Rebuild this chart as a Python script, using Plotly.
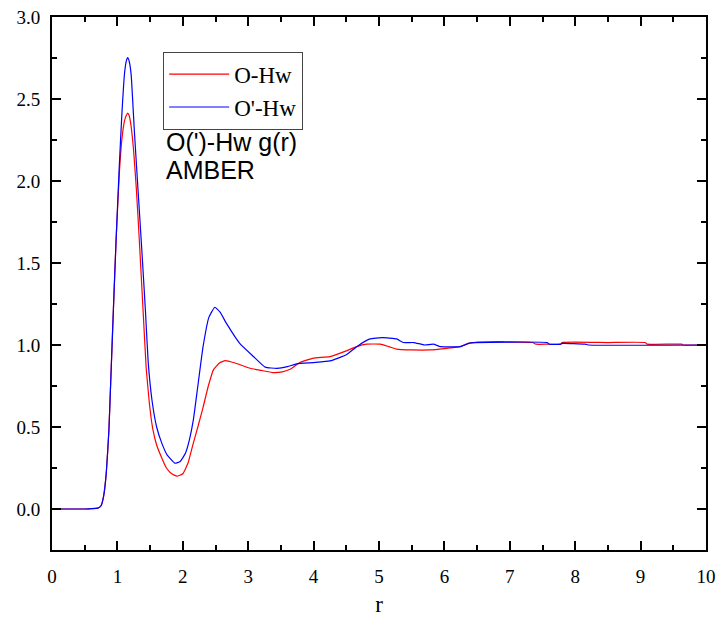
import plotly.graph_objects as go

# O-Hw g(r)
r_red = [0.0, 0.5, 0.6, 0.70, 0.75, 0.79, 0.83, 0.87, 0.90, 0.94, 0.98, 1.03, 1.07, 1.11, 1.135, 1.157,
         1.18, 1.20, 1.245, 1.29, 1.335, 1.39, 1.44, 1.49, 1.54, 1.60, 1.68, 1.75, 1.83, 1.91, 2.0, 2.08,
         2.16, 2.23, 2.31, 2.39, 2.47, 2.56, 2.65, 2.8, 3.03, 3.2, 3.38, 3.52, 3.64, 3.79, 4.0, 4.25,
         4.51, 4.66, 4.81, 5.02, 5.15, 5.27, 5.5, 5.78, 6.0, 6.24, 6.37, 6.45, 6.8, 6.9, 7.35, 7.4,
         7.57, 7.78, 7.8, 8.5, 9.07, 9.1, 9.63, 9.65, 10.0]
g_red = [0.0, 0.0, 0.002, 0.005, 0.02, 0.08, 0.22, 0.48, 0.80, 1.23, 1.64, 2.05, 2.26, 2.37, 2.40, 2.414,
         2.40, 2.36, 2.20, 1.95, 1.64, 1.23, 0.86, 0.64, 0.49, 0.39, 0.31, 0.25, 0.215, 0.20, 0.215, 0.28,
         0.40, 0.50, 0.62, 0.75, 0.85, 0.89, 0.905, 0.89, 0.858, 0.845, 0.832, 0.836, 0.852, 0.893, 0.92, 0.929,
         0.966, 0.99, 1.005, 1.005, 0.99, 0.975, 0.97, 0.97, 0.978, 0.99, 1.01, 1.015, 1.02, 1.02, 1.015, 1.005,
         1.005, 1.005, 1.015, 1.015, 1.015, 1.005, 1.005, 1.0, 1.0]

# O'-Hw g(r)
r_blue = [0.0, 0.5, 0.6, 0.70, 0.75, 0.79, 0.83, 0.87, 0.90, 0.94, 0.98, 1.03, 1.07, 1.11, 1.135, 1.157,
          1.18, 1.21, 1.26, 1.31, 1.37, 1.43, 1.47, 1.53, 1.60, 1.68, 1.76, 1.88, 1.96, 2.04, 2.10, 2.16,
          2.23, 2.31, 2.40, 2.49, 2.57, 2.67, 2.87, 3.08, 3.26, 3.44, 3.6, 3.74, 4.0, 4.25, 4.5,
          4.66, 4.86, 5.05, 5.27, 5.37, 5.53, 5.7, 5.83, 5.94, 6.24, 6.37, 6.45, 7.57, 7.6, 7.78,
          7.8, 8.15, 8.2, 10.0]
g_blue = [0.0, 0.0, 0.002, 0.005, 0.02, 0.08, 0.22, 0.48, 0.80, 1.23, 1.64, 2.10, 2.42, 2.66, 2.73, 2.753,
          2.73, 2.65, 2.30, 1.98, 1.60, 1.20, 0.90, 0.66, 0.50, 0.40, 0.33, 0.279, 0.29, 0.34, 0.42, 0.54,
          0.75, 0.99, 1.17, 1.23, 1.20, 1.13, 1.01, 0.93, 0.865, 0.858, 0.868, 0.885, 0.893, 0.903, 0.94,
          0.99, 1.037, 1.045, 1.037, 1.015, 1.015, 1.0, 1.005, 0.99, 0.99, 1.01, 1.015, 1.015, 1.005, 1.005,
          1.01, 1.005, 1.0, 1.0]

x_ticks = [0, 1, 2, 3, 4, 5, 6, 7, 8, 9, 10]
y_ticks = [0.0, 0.5, 1.0, 1.5, 2.0, 2.5, 3.0]
y_tick_labels = ["0.0", "0.5", "1.0", "1.5", "2.0", "2.5", "3.0"]

fig = go.Figure()
fig.add_trace(go.Scatter(x=r_red, y=g_red, mode="lines", name="O-Hw",
                         line=dict(color="#FF0000", width=1.2, shape="spline", smoothing=0.4)))
fig.add_trace(go.Scatter(x=r_blue, y=g_blue, mode="lines", name="O'-Hw",
                         line=dict(color="#0000FF", width=1.2, shape="spline", smoothing=0.4)))

serif = "Liberation Serif, Times New Roman, serif"
sans = "Liberation Sans, Arial, sans-serif"

axis_common = dict(showline=True, linecolor="black", linewidth=2, mirror="ticks",
                   ticks="inside", ticklen=9, tickwidth=2, tickcolor="black",
                   showgrid=False, zeroline=False, automargin=False,
                   ticklabeloverflow="allow",
                   tickfont=dict(family=serif, size=19, color="black"))

fig.update_xaxes(range=[0, 10], tickvals=x_ticks, ticklabelstandoff=8,
                 minor=dict(ticks="inside", ticklen=5, tickwidth=2, tickcolor="black", dtick=0.5),
                 title=dict(text="r", font=dict(family=serif, size=23, color="black"), standoff=18),
                 **axis_common)
fig.update_yaxes(range=[-0.25, 3.0], tickvals=y_ticks, ticktext=y_tick_labels, ticklabelstandoff=6,
                 minor=dict(ticks="inside", ticklen=5, tickwidth=2, tickcolor="black", dtick=0.25),
                 **axis_common)

fig.add_annotation(text="O(')-Hw g(r)", xref="paper", yref="paper", x=0.171, y=0.766,
                   xanchor="left", yanchor="middle", showarrow=False,
                   font=dict(family=sans, size=25, color="black"))
fig.add_annotation(text="AMBER", xref="paper", yref="paper", x=0.171, y=0.713,
                   xanchor="left", yanchor="middle", showarrow=False,
                   font=dict(family=sans, size=25, color="black"))

fig.update_layout(
    width=717, height=617,
    margin=dict(l=52, r=11, t=17, b=67),
    paper_bgcolor="white", plot_bgcolor="white",
    legend=dict(x=0.170, y=0.935, xanchor="left", yanchor="top",
                bgcolor="white", bordercolor="#444444", borderwidth=1,
                font=dict(family=serif, size=23, color="black"),
                itemwidth=60, tracegroupgap=0),
    showlegend=True,
)

# remove the browser's default 8px page margin so the figure fills the window exactly
fig.write_html("out.html", config={"displayModeBar": False},
               post_script="document.body.style.margin='0';document.body.style.overflow='hidden';")
